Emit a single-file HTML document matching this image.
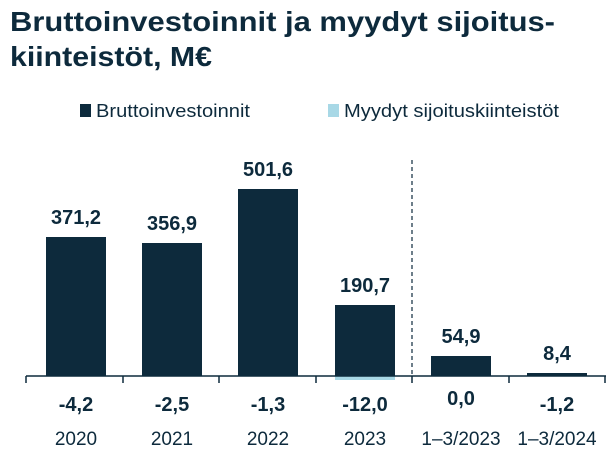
<!DOCTYPE html>
<html><head><style>
body{margin:0;width:615px;height:456px;background:#fff;overflow:hidden;font-family:"Liberation Sans",sans-serif;color:#0d2a3c}
</style></head><body>
<svg width="615" height="456" xmlns="http://www.w3.org/2000/svg" font-family="Liberation Sans, sans-serif" fill="#0d2a3c">
<text x="10" y="31" font-size="28" font-weight="bold" textLength="545" lengthAdjust="spacingAndGlyphs">Bruttoinvestoinnit ja myydyt sijoitus-</text>
<text x="10" y="66" font-size="28" font-weight="bold" textLength="202" lengthAdjust="spacingAndGlyphs">kiinteistöt, M€</text>
<rect x="80" y="104" width="11" height="13"/>
<text x="96" y="117" font-size="18" textLength="154" lengthAdjust="spacingAndGlyphs">Bruttoinvestoinnit</text>
<rect x="328" y="104" width="11" height="13" fill="#a8d8e6"/>
<text x="344" y="117" font-size="18" textLength="215" lengthAdjust="spacingAndGlyphs">Myydyt sijoituskiinteistöt</text>
<g fill="#0d2a3c">
<rect x="46" y="237" width="60" height="139"/>
<rect x="142" y="243" width="60" height="133"/>
<rect x="238" y="189" width="60" height="187"/>
<rect x="335" y="305" width="60" height="71"/>
<rect x="431" y="356" width="60" height="20"/>
<rect x="527" y="373" width="60" height="3"/>
</g>
<rect x="335" y="376" width="60" height="4" fill="#a8d8e6"/>
<line x1="26" y1="376" x2="606" y2="376" stroke="#0d2a3c" stroke-width="1.5"/>
<g stroke="#0d2a3c" stroke-width="1.5">
<line x1="26" y1="376" x2="26" y2="383"/><line x1="123" y1="376" x2="123" y2="383"/>
<line x1="219" y1="376" x2="219" y2="383"/><line x1="316" y1="376" x2="316" y2="383"/>
<line x1="412" y1="376" x2="412" y2="383"/><line x1="509" y1="376" x2="509" y2="383"/>
<line x1="605" y1="376" x2="605" y2="383"/>
</g>
<line x1="412" y1="160" x2="412" y2="376" stroke="#0d2a3c" stroke-width="1.2" stroke-dasharray="4,3"/>
<g font-size="20" font-weight="bold" text-anchor="middle">
<text x="76" y="224">371,2</text><text x="172" y="230">356,9</text>
<text x="268" y="176">501,6</text><text x="365" y="292">190,7</text>
<text x="461" y="343">54,9</text><text x="557" y="360">8,4</text>
<text x="76" y="411">-4,2</text><text x="172" y="411">-2,5</text>
<text x="268" y="411">-1,3</text><text x="365" y="411">-12,0</text>
<text x="461" y="405">0,0</text><text x="557" y="411">-1,2</text>
</g>
<g font-size="19" text-anchor="middle">
<text x="76" y="445">2020</text><text x="172" y="445">2021</text>
<text x="268" y="445">2022</text><text x="365" y="445">2023</text>
<text x="461" y="445">1–3/2023</text><text x="557" y="445">1–3/2024</text>
</g>
</svg>
</body></html>
